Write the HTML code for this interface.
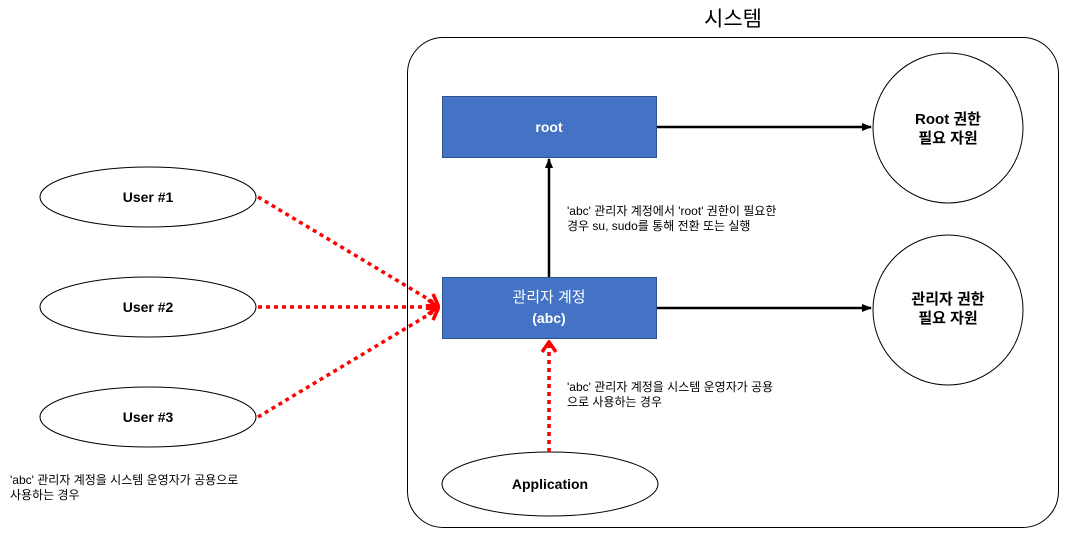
<!DOCTYPE html>
<html><head><meta charset="utf-8"><style>
body{margin:0;background:#fff;}
svg text{font-family:"Liberation Sans","Noto Sans CJK KR",sans-serif;}
</style></head><body>
<svg width="1077" height="553" xmlns="http://www.w3.org/2000/svg">
<defs>
<marker id="ab" markerWidth="10" markerHeight="10" refX="9" refY="5" orient="auto" markerUnits="userSpaceOnUse"><path d="M0,1 L10,5 L0,9 Z" fill="#000"/></marker>
<marker id="ar" markerWidth="14" markerHeight="16" refX="12" refY="8" orient="auto" markerUnits="userSpaceOnUse"><path d="M2,1 L12,8 L2,15" fill="none" stroke="#f00" stroke-width="3.5"/></marker>
</defs>
<text x="733" y="26" font-size="21" text-anchor="middle">시스템</text>
<rect x="407.5" y="37.5" width="651" height="490" rx="36" fill="none" stroke="#000" stroke-width="1"/>
<rect x="442.5" y="96.5" width="214" height="61" fill="#4472c4" stroke="#2f528f"/>
<text x="549" y="132" font-size="14" font-weight="bold" fill="#fff" text-anchor="middle">root</text>
<rect x="442.5" y="277.5" width="214" height="61" fill="#4472c4" stroke="#2f528f"/>
<text x="549" y="302" font-size="15" fill="#fff" text-anchor="middle">관리자 계정</text>
<text x="549" y="323" font-size="14" font-weight="bold" fill="#fff" text-anchor="middle">(abc)</text>
<circle cx="948" cy="128" r="75" fill="#fff" stroke="#000"/>
<text x="948" y="124" font-size="15" font-weight="bold" text-anchor="middle">Root 권한</text>
<text x="948" y="143" font-size="15" font-weight="bold" text-anchor="middle">필요 자원</text>
<circle cx="948" cy="310" r="75" fill="#fff" stroke="#000"/>
<text x="948" y="304" font-size="15" font-weight="bold" text-anchor="middle">관리자 권한</text>
<text x="948" y="323" font-size="15" font-weight="bold" text-anchor="middle">필요 자원</text>
<line x1="657" y1="127" x2="871" y2="127" stroke="#000" stroke-width="2.5" marker-end="url(#ab)"/>
<line x1="657" y1="308" x2="871" y2="308" stroke="#000" stroke-width="2.5" marker-end="url(#ab)"/>
<line x1="549" y1="277" x2="549" y2="159" stroke="#000" stroke-width="2.5" marker-end="url(#ab)"/>
<text x="567" y="215" font-size="12">'abc' 관리자 계정에서 'root' 권한이 필요한</text>
<text x="567" y="230" font-size="12">경우 su, sudo를 통해 전환 또는 실행</text>
<ellipse cx="148" cy="197" rx="108" ry="30" fill="#fff" stroke="#000"/>
<text x="148" y="202" font-size="14" font-weight="bold" text-anchor="middle">User  #1</text>
<ellipse cx="148" cy="307" rx="108" ry="30" fill="#fff" stroke="#000"/>
<text x="148" y="312" font-size="14" font-weight="bold" text-anchor="middle">User  #2</text>
<ellipse cx="148" cy="417" rx="108" ry="30" fill="#fff" stroke="#000"/>
<text x="148" y="422" font-size="14" font-weight="bold" text-anchor="middle">User  #3</text>
<ellipse cx="550" cy="484" rx="108" ry="32" fill="#fff" stroke="#000"/>
<text x="550" y="489" font-size="14" font-weight="bold" text-anchor="middle">Application</text>
<g stroke="#f00" stroke-width="3.5" stroke-dasharray="4,4" fill="none">
<line x1="258" y1="197" x2="438" y2="305" marker-end="url(#ar)"/>
<line x1="258" y1="307" x2="438" y2="307" marker-end="url(#ar)"/>
<line x1="258" y1="417" x2="438" y2="309" marker-end="url(#ar)"/>
<line x1="549" y1="452" x2="549" y2="342" marker-end="url(#ar)"/>
</g>
<text x="567" y="391" font-size="12">'abc' 관리자 계정을 시스템 운영자가 공용</text>
<text x="567" y="406" font-size="12">으로 사용하는 경우</text>
<text x="10" y="484" font-size="12">'abc' 관리자 계정을 시스템 운영자가 공용으로</text>
<text x="10" y="499" font-size="12">사용하는 경우</text>
</svg>
</body></html>
